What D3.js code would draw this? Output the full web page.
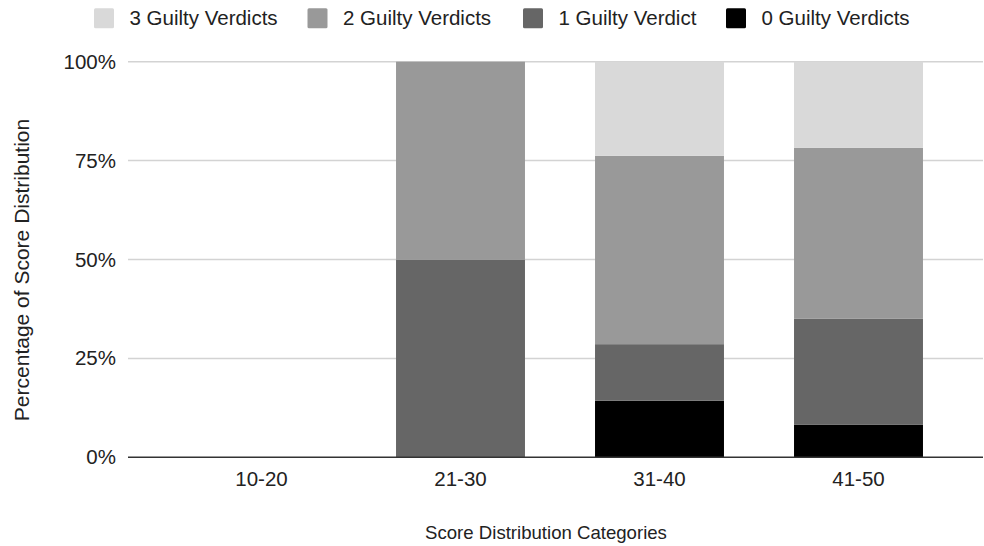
<!DOCTYPE html>
<html>
<head>
<meta charset="utf-8">
<script src="https://cdn.jsdelivr.net/npm/d3@7"></script>
<style>
  html, body { margin: 0; padding: 0; background: #fff; }
  svg { display: block; font-family: "Liberation Sans", Arial, sans-serif; }
</style>
</head>
<body>
<svg id="chart" width="984" height="546"></svg>
<script>
// Score ranges on the x axis
const categories = ["10-20", "21-30", "31-40", "41-50"];

// Series, stacked bottom to top (percent of each score range)
const seriesNames = ["0 Guilty Verdicts", "1 Guilty Verdict", "2 Guilty Verdicts", "3 Guilty Verdicts"];
const zeroGuilty  = [0, 0, 14.3, 8.2];
const oneGuilty   = [0, 50, 14.3, 26.8];
const twoGuilty   = [0, 50, 47.6, 43.2];
const threeGuilty = [0, 0, 23.8, 21.8];

const seriesColors = ["#000000", "#666666", "#999999", "#d9d9d9"];
const yTicks = [0, 25, 50, 75, 100];
const legendOrder = [3, 2, 1, 0];

const xTitle = "Score Distribution Categories";
const yTitle = "Percentage of Score Distribution";

const svg = d3.select("#chart");
const plot = { left: 128, right: 983, top: 61.7, bottom: 457.3 };
const textColor = "#222";

const table = categories.map((c, i) => ({
  category: c,
  [seriesNames[0]]: zeroGuilty[i],
  [seriesNames[1]]: oneGuilty[i],
  [seriesNames[2]]: twoGuilty[i],
  [seriesNames[3]]: threeGuilty[i]
}));

const layers = d3.stack().keys(seriesNames)(table);

const x = d3.scaleBand()
  .domain(categories)
  .range([162, 958])
  .paddingInner(0.352)
  .paddingOuter(0.176);

const y = d3.scaleLinear()
  .domain([0, 100])
  .range([plot.bottom, plot.top]);

const color = d3.scaleOrdinal().domain(seriesNames).range(seriesColors);

// Horizontal gridlines
svg.append("g")
  .selectAll("line")
  .data(yTicks.filter(t => t !== 0))
  .join("line")
  .attr("x1", plot.left)
  .attr("x2", plot.right)
  .attr("y1", d => y(d))
  .attr("y2", d => y(d))
  .attr("stroke", "#d3d3d3")
  .attr("stroke-width", 1.5);

// Y axis tick labels
const yg = svg.append("g")
  .attr("transform", `translate(${plot.left},0)`)
  .call(d3.axisLeft(y)
    .tickValues(yTicks)
    .tickFormat(d => d + "%")
    .tickSize(0)
    .tickPadding(12));
yg.select(".domain").remove();
yg.selectAll("text")
  .attr("font-size", 20.5)
  .attr("fill", textColor)
  .attr("font-family", "Liberation Sans, Arial, sans-serif");

// Stacked bars
svg.append("g")
  .selectAll("g")
  .data(layers)
  .join("g")
  .attr("fill", d => color(d.key))
  .selectAll("rect")
  .data(d => d)
  .join("rect")
  .attr("x", d => x(d.data.category))
  .attr("width", x.bandwidth())
  .attr("y", d => y(d[1]))
  .attr("height", d => Math.max(0, y(d[0]) - y(d[1])));

// Baseline
svg.append("line")
  .attr("x1", plot.left)
  .attr("x2", plot.right)
  .attr("y1", y(0))
  .attr("y2", y(0))
  .attr("stroke", "#333")
  .attr("stroke-width", 1.6);

// X axis labels
const xg = svg.append("g")
  .attr("transform", `translate(0,${y(0)})`)
  .call(d3.axisBottom(x).tickSize(0).tickPadding(14));
xg.select(".domain").remove();
xg.selectAll("text")
  .attr("font-size", 20.5)
  .attr("fill", textColor)
  .attr("font-family", "Liberation Sans, Arial, sans-serif");

// Axis titles
svg.append("text")
  .attr("x", 546)
  .attr("y", 539)
  .attr("text-anchor", "middle")
  .attr("font-size", 18.6)
  .attr("fill", textColor)
  .text(xTitle);

svg.append("text")
  .attr("transform", `translate(29,270) rotate(-90)`)
  .attr("text-anchor", "middle")
  .attr("font-size", 21)
  .attr("fill", textColor)
  .text(yTitle);

// Legend
const legendX = [94, 307.5, 523, 726];
const legend = svg.append("g");
legendOrder.forEach((si, i) => {
  const g = legend.append("g").attr("transform", `translate(${legendX[i]},0)`);
  g.append("rect")
    .attr("x", 0)
    .attr("y", 8.3)
    .attr("width", 20)
    .attr("height", 20)
    .attr("rx", 1.5)
    .attr("fill", seriesColors[si]);
  g.append("text")
    .attr("x", 35.5)
    .attr("y", 25)
    .attr("font-size", 20.5)
    .attr("fill", textColor)
    .text(seriesNames[si]);
});
</script>
</body>
</html>
